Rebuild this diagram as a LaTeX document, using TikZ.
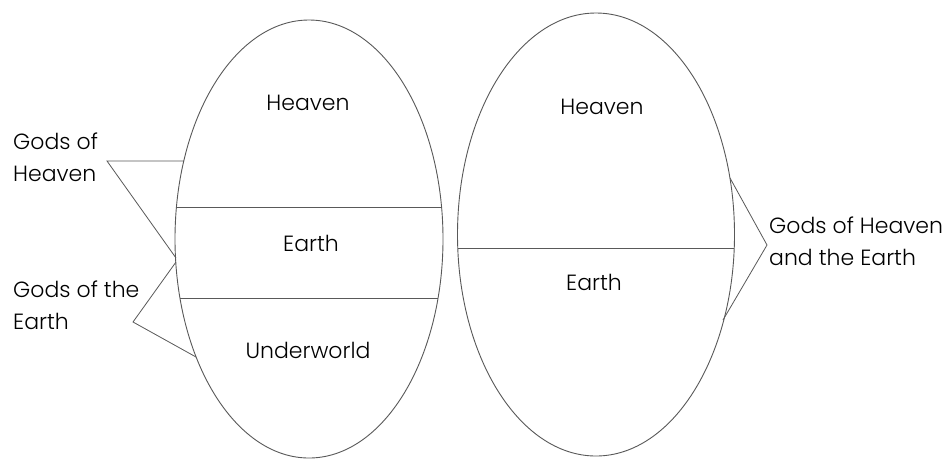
\documentclass[tikz,border=0pt]{standalone}
\usepackage{fontspec}
\setmainfont{Poppins}[UprightFont={* Light}]
\usetikzlibrary{shapes.geometric}
\begin{document}
\begin{tikzpicture}[x=1pt,y=-1pt,
  oval/.style={ellipse,draw=black!65,line width=0.9pt,inner sep=0pt,outer sep=0pt},
  chord/.style={draw=black!65,line width=0.9pt},
  lbl/.style={text=black,font=\fontsize{22}{32}\selectfont,inner sep=0pt},
  side/.style={lbl,align=left,anchor=west},
  brace/.style={draw=black!65,line width=0.8pt}]
\useasboundingbox[fill=white] (0,0) rectangle (949,459);
% ellipses
\node[oval,minimum width=268pt,minimum height=438pt] (L) at (309,239) {};
\node[oval,minimum width=277pt,minimum height=443pt] (R) at (596,234.5) {};
% chords
\coordinate (l1a) at (176.4,207); \coordinate (l1b) at (441.6,207);
\coordinate (l2a) at (180,298);   \coordinate (l2b) at (438,298);
\coordinate (r1a) at (458.1,248); \coordinate (r1b) at (733.9,248);
\draw[chord] (l1a) -- (l1b);
\draw[chord] (l2a) -- (l2b);
\draw[chord] (r1a) -- (r1b);
% region labels
\node[lbl] (heavenL) at (308,103) {Heaven};
\node[lbl] (earthL) at (311,243) {Earth};
\node[lbl] (underL) at (308,350) {Underworld};
\node[lbl] (heavenR) at (602,107) {Heaven};
\node[lbl] (earthR) at (594,282) {Earth};
% side labels
\node[side] (gh) at (13,157) {Gods of\\Heaven};
\node[side] (ge) at (13,305) {Gods of the\\Earth};
\node[side] (ghe) at (769,241) {Gods of Heaven\\and the Earth};
% brackets
\coordinate (gh1) at (184,161); \coordinate (ghv) at (107,161); \coordinate (gh2) at (176,258);
\coordinate (ge1) at (176,262); \coordinate (gev) at (133,322); \coordinate (ge2) at (196,357);
\coordinate (r1) at (730,178);  \coordinate (rv) at (767,245);  \coordinate (r2) at (723,320);
\draw[brace] (gh1) -- (ghv) -- (gh2);
\draw[brace] (ge1) -- (gev) -- (ge2);
\draw[brace] (r1) -- (rv) -- (r2);
\end{tikzpicture}
\end{document}
